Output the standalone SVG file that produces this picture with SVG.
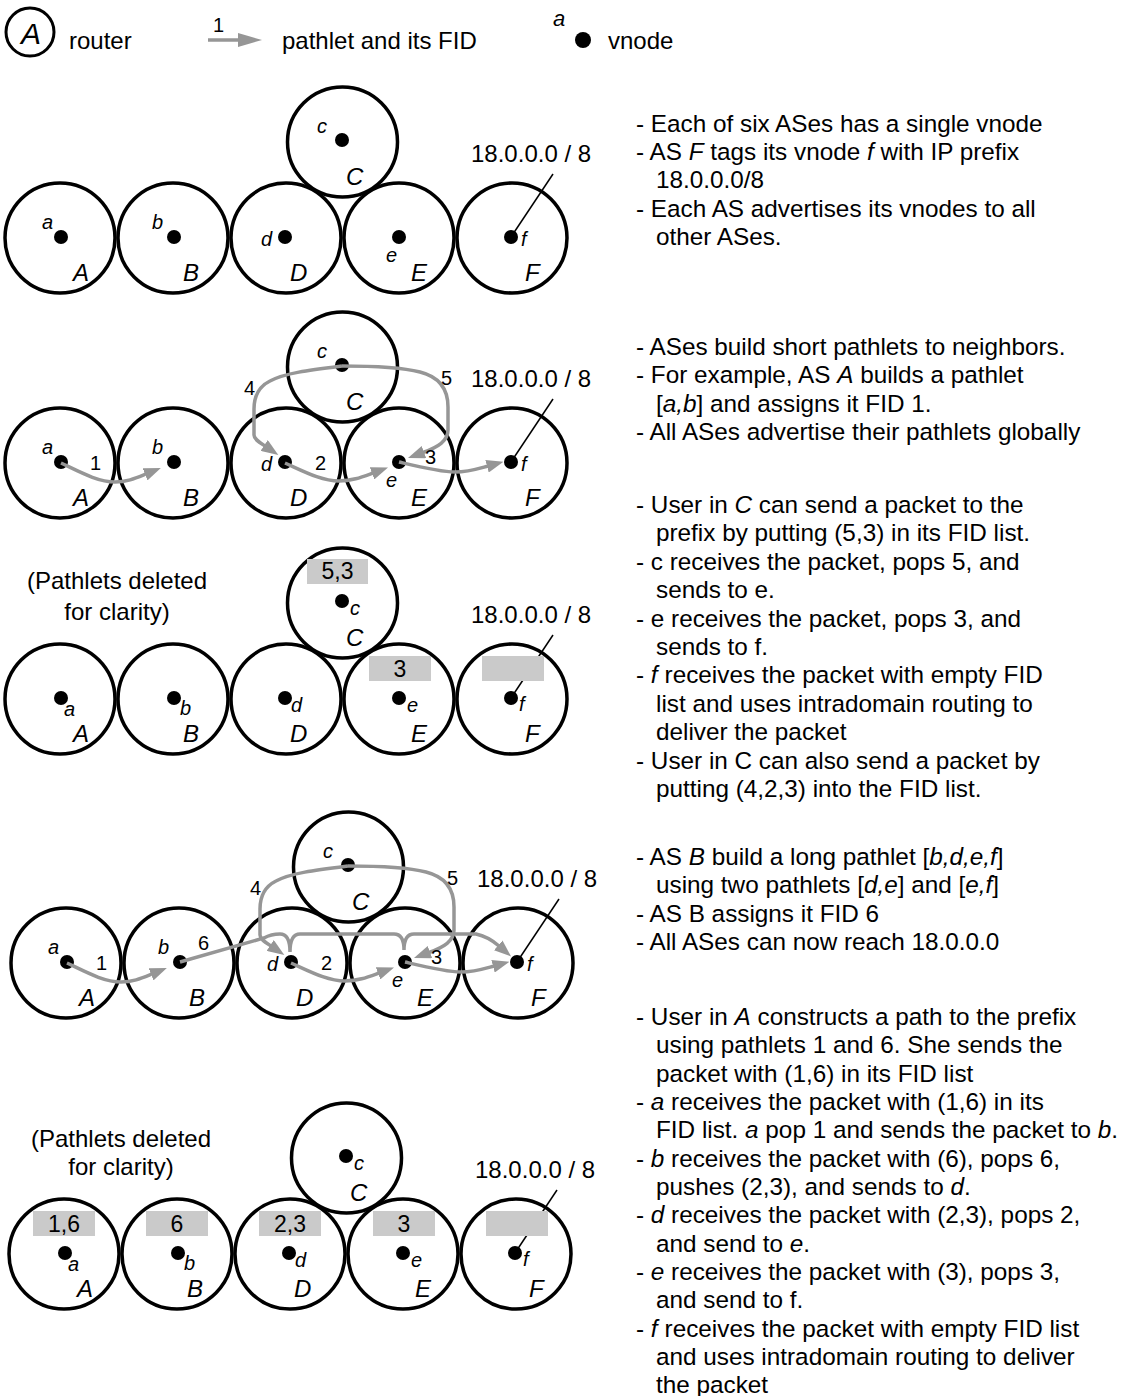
<svg xmlns="http://www.w3.org/2000/svg" width="1122" height="1396" viewBox="0 0 1122 1396">
<style>
.ring{fill:none;stroke:#000;stroke-width:3.5}
.dot{fill:#000}
.lbl{font-family:"Liberation Sans",Arial,sans-serif;font-style:italic;font-size:20px;fill:#000}
.cap{font-family:"Liberation Sans",Arial,sans-serif;font-style:italic;font-size:24px;fill:#000}
.txt{font-family:"Liberation Sans",Arial,sans-serif;font-size:24px;fill:#000}
.note{font-family:"Liberation Sans",Arial,sans-serif;font-size:24.3px;fill:#000}
.num{font-family:"Liberation Sans",Arial,sans-serif;font-size:20px;fill:#000}
.bx{font-family:"Liberation Sans",Arial,sans-serif;font-size:23px;fill:#000;text-anchor:middle}
.mid{text-anchor:middle}
.it{font-style:italic}
.pl{fill:none;stroke:#969696;stroke-width:3.5;marker-end:url(#ah)}
.box{fill:#cacaca}
.ptr{stroke:#000;stroke-width:1.5}
</style>
<defs>
<marker id="ah" viewBox="0 0 17 13" refX="1" refY="6.5" markerWidth="17" markerHeight="13" markerUnits="userSpaceOnUse" orient="auto"><path d="M0,0 L17,6.5 L0,13 z" fill="#969696"/></marker>
</defs>
<rect width="1122" height="1396" fill="#fff"/>

<!-- legend -->
<g id="legend">
<g id="legend-router"><circle class="ring" style="stroke-width:3" cx="30" cy="32" r="24"/><text class="cap mid" style="font-size:30px" x="31" y="44">A</text><text class="txt" x="69" y="49">router</text></g>
<g id="legend-pathlet"><text class="num" x="213" y="32">1</text><line x1="208" y1="40" x2="242" y2="40" stroke="#969696" stroke-width="3.5"/><polygon points="238,33 262,40 238,47" fill="#969696"/><text class="txt" x="282" y="49">pathlet and its FID</text></g>
<g id="legend-vnode"><text class="lbl" style="font-size:22px" x="553" y="26">a</text><circle class="dot" cx="583" cy="40" r="8"/><text class="txt" x="608" y="49">vnode</text></g>
</g>

<!-- panel 1 -->
<g id="panel1">
<g id="p1-prefix"><line class="ptr" x1="553" y1="174" x2="511" y2="237"/><text class="txt" x="471" y="162">18.0.0.0 / 8</text></g>
<g id="p1-A"><circle class="ring" cx="60" cy="238" r="55"/><circle class="dot" cx="61" cy="237" r="7"/><text class="lbl" x="42" y="229">a</text><text class="cap" x="73" y="281">A</text></g>
<g id="p1-B"><circle class="ring" cx="173" cy="238" r="55"/><circle class="dot" cx="174" cy="237" r="7"/><text class="lbl" x="152" y="229">b</text><text class="cap" x="183" y="281">B</text></g>
<g id="p1-C"><circle class="ring" cx="342.5" cy="142" r="55"/><circle class="dot" cx="342" cy="140" r="7"/><text class="lbl" x="317" y="133">c</text><text class="cap" x="346" y="185">C</text></g>
<g id="p1-D"><circle class="ring" cx="286" cy="238" r="55"/><circle class="dot" cx="285" cy="237" r="7"/><text class="lbl" x="261" y="246">d</text><text class="cap" x="290" y="281">D</text></g>
<g id="p1-E"><circle class="ring" cx="399" cy="238" r="55"/><circle class="dot" cx="399" cy="237" r="7"/><text class="lbl" x="386" y="262">e</text><text class="cap" x="411" y="281">E</text></g>
<g id="p1-F"><circle class="ring" cx="512" cy="238" r="55"/><circle class="dot" cx="511" cy="237" r="7"/><text class="lbl" x="521" y="246">f</text><text class="cap" x="525" y="281">F</text></g>
</g>

<!-- panel 2 -->
<g id="panel2" transform="translate(0,225)">
<g id="p2-prefix"><line class="ptr" x1="553" y1="174" x2="511" y2="237"/><text class="txt" x="471" y="162">18.0.0.0 / 8</text></g>
<g id="p2-A"><circle class="ring" cx="60" cy="238" r="55"/><circle class="dot" cx="61" cy="237" r="7"/><text class="lbl" x="42" y="229">a</text><text class="cap" x="73" y="281">A</text></g>
<g id="p2-B"><circle class="ring" cx="173" cy="238" r="55"/><circle class="dot" cx="174" cy="237" r="7"/><text class="lbl" x="152" y="229">b</text><text class="cap" x="183" y="281">B</text></g>
<g id="p2-C"><circle class="ring" cx="342.5" cy="142" r="55"/><circle class="dot" cx="342" cy="140" r="7"/><text class="lbl" x="317" y="133">c</text><text class="cap" x="346" y="185">C</text></g>
<g id="p2-D"><circle class="ring" cx="286" cy="238" r="55"/><circle class="dot" cx="285" cy="237" r="7"/><text class="lbl" x="261" y="246">d</text><text class="cap" x="290" y="281">D</text></g>
<g id="p2-E"><circle class="ring" cx="399" cy="238" r="55"/><circle class="dot" cx="399" cy="237" r="7"/><text class="lbl" x="386" y="262">e</text><text class="cap" x="411" y="281">E</text></g>
<g id="p2-F"><circle class="ring" cx="512" cy="238" r="55"/><circle class="dot" cx="511" cy="237" r="7"/><text class="lbl" x="521" y="246">f</text><text class="cap" x="525" y="281">F</text></g>
<g id="p2-connectors">
<path class="pl" d="M61,238 C80,247 98,257 115,257 C127,257 136,253 146,249"/>
<path class="pl" d="M285,238 C305,247 322,256 339,256 C352,256 362,252 373,248"/>
<path class="pl" d="M399,237 C420,242 440,247 455,247 C468,247 477,244 488,241"/>
<path class="pl" d="M342,141 C310,145 285,148 270,156 C258,162 254,172 254,184 L254,210 C254,214 259,217 265,221"/>
<path class="pl" d="M342,141 C370,141 400,142 420,147 C440,152 448,165 448,182 L448,205 C448,216 438,222 423,227.5"/>
<text class="num" x="90" y="245">1</text><text class="num" x="315" y="245">2</text><text class="num" x="425" y="239">3</text><text class="num" x="244" y="170">4</text><text class="num" x="441" y="160">5</text>
</g>
</g>

<!-- panel 3 -->
<g id="panel3" transform="translate(0,461)">
<text class="txt mid" x="117" y="128">(Pathlets deleted</text>
<text class="txt mid" x="117" y="159">for clarity)</text>
<g id="p3-prefix"><line class="ptr" x1="553" y1="174" x2="511" y2="237"/><text class="txt" x="471" y="162">18.0.0.0 / 8</text></g>
<g id="p3-A"><circle class="ring" cx="60" cy="238" r="55"/><circle class="dot" cx="61" cy="237" r="7"/><text class="lbl" x="64" y="255">a</text><text class="cap" x="73" y="281">A</text></g>
<g id="p3-B"><circle class="ring" cx="173" cy="238" r="55"/><circle class="dot" cx="174" cy="237" r="7"/><text class="lbl" x="180" y="254">b</text><text class="cap" x="183" y="281">B</text></g>
<g id="p3-C"><circle class="ring" cx="342.5" cy="142" r="55"/><rect class="box" x="307" y="98" width="61" height="25"/><text class="bx" x="337.5" y="118">5,3</text><circle class="dot" cx="342" cy="140" r="7"/><text class="lbl" x="350" y="154">c</text><text class="cap" x="346" y="185">C</text></g>
<g id="p3-D"><circle class="ring" cx="286" cy="238" r="55"/><circle class="dot" cx="285" cy="237" r="7"/><text class="lbl" x="291" y="251">d</text><text class="cap" x="290" y="281">D</text></g>
<g id="p3-E"><circle class="ring" cx="399" cy="238" r="55"/><rect class="box" x="369" y="195" width="62" height="25"/><text class="bx" x="400" y="216">3</text><circle class="dot" cx="399" cy="237" r="7"/><text class="lbl" x="407" y="251">e</text><text class="cap" x="411" y="281">E</text></g>
<g id="p3-F"><circle class="ring" cx="512" cy="238" r="55"/><rect class="box" x="482" y="195" width="62" height="25"/><circle class="dot" cx="511" cy="237" r="7"/><text class="lbl" x="519" y="250">f</text><text class="cap" x="525" y="281">F</text></g>
</g>

<!-- panel 4 -->
<g id="panel4" transform="translate(6,725)">
<g id="p4-prefix"><line class="ptr" x1="553" y1="174" x2="511" y2="237"/><text class="txt" x="471" y="162">18.0.0.0 / 8</text></g>
<g id="p4-A"><circle class="ring" cx="60" cy="238" r="55"/><circle class="dot" cx="61" cy="237" r="7"/><text class="lbl" x="42" y="229">a</text><text class="cap" x="73" y="281">A</text></g>
<g id="p4-B"><circle class="ring" cx="173" cy="238" r="55"/><circle class="dot" cx="174" cy="237" r="7"/><text class="lbl" x="152" y="229">b</text><text class="cap" x="183" y="281">B</text></g>
<g id="p4-C"><circle class="ring" cx="342.5" cy="142" r="55"/><circle class="dot" cx="342" cy="140" r="7"/><text class="lbl" x="317" y="133">c</text><text class="cap" x="346" y="185">C</text></g>
<g id="p4-D"><circle class="ring" cx="286" cy="238" r="55"/><circle class="dot" cx="285" cy="237" r="7"/><text class="lbl" x="261" y="246">d</text><text class="cap" x="290" y="281">D</text></g>
<g id="p4-E"><circle class="ring" cx="399" cy="238" r="55"/><circle class="dot" cx="399" cy="237" r="7"/><text class="lbl" x="386" y="262">e</text><text class="cap" x="411" y="281">E</text></g>
<g id="p4-F"><circle class="ring" cx="512" cy="238" r="55"/><circle class="dot" cx="511" cy="237" r="7"/><text class="lbl" x="521" y="246">f</text><text class="cap" x="525" y="281">F</text></g>
<g id="p4-connectors">
<path class="pl" d="M61,238 C80,247 98,257 115,257 C127,257 136,253 146,249"/>
<path class="pl" d="M285,238 C305,247 322,256 339,256 C352,256 362,252 373,248"/>
<path class="pl" d="M399,237 C420,242 440,247 455,247 C468,247 477,244 488,241"/>
<path class="pl" d="M342,141 C310,145 285,148 270,156 C258,162 254,172 254,184 L254,210 C254,214 259,217 265,221"/>
<path class="pl" d="M342,141 C370,141 400,142 420,147 C440,152 448,165 448,182 L448,205 C448,216 438,222 423,227.5"/>
<path class="pl" d="M174,237 L258,213 Q265,209 274,209 Q284,209 284,227 Q284,209 294,209 L388,209 Q398,209 398,225 Q398,209 408,209 L470,209 Q482,211.5 493,221"/>
<text class="num" x="90" y="245">1</text><text class="num" x="315" y="245">2</text><text class="num" x="425" y="239">3</text><text class="num" x="244" y="170">4</text><text class="num" x="441" y="160">5</text><text class="num" x="192" y="225">6</text>
</g>
</g>

<!-- panel 5 -->
<g id="panel5" transform="translate(4,1016)">
<text class="txt mid" x="117" y="131">(Pathlets deleted</text>
<text class="txt mid" x="117" y="159">for clarity)</text>
<g id="p5-prefix"><line class="ptr" x1="553" y1="174" x2="511" y2="237"/><text class="txt" x="471" y="162">18.0.0.0 / 8</text></g>
<g id="p5-A"><circle class="ring" cx="60" cy="238" r="55"/><rect class="box" x="29" y="195" width="62" height="25"/><text class="bx" x="60" y="216">1,6</text><circle class="dot" cx="61" cy="237" r="7"/><text class="lbl" x="64" y="255">a</text><text class="cap" x="73" y="281">A</text></g>
<g id="p5-B"><circle class="ring" cx="173" cy="238" r="55"/><rect class="box" x="142" y="195" width="62" height="25"/><text class="bx" x="173" y="216">6</text><circle class="dot" cx="174" cy="237" r="7"/><text class="lbl" x="180" y="254">b</text><text class="cap" x="183" y="281">B</text></g>
<g id="p5-C"><circle class="ring" cx="342.5" cy="142" r="55"/><circle class="dot" cx="342" cy="140" r="7"/><text class="lbl" x="350" y="154">c</text><text class="cap" x="346" y="185">C</text></g>
<g id="p5-D"><circle class="ring" cx="286" cy="238" r="55"/><rect class="box" x="255" y="195" width="62" height="25"/><text class="bx" x="286" y="216">2,3</text><circle class="dot" cx="285" cy="237" r="7"/><text class="lbl" x="291" y="251">d</text><text class="cap" x="290" y="281">D</text></g>
<g id="p5-E"><circle class="ring" cx="399" cy="238" r="55"/><rect class="box" x="369" y="195" width="62" height="25"/><text class="bx" x="400" y="216">3</text><circle class="dot" cx="399" cy="237" r="7"/><text class="lbl" x="407" y="251">e</text><text class="cap" x="411" y="281">E</text></g>
<g id="p5-F"><circle class="ring" cx="512" cy="238" r="55"/><rect class="box" x="482" y="195" width="62" height="25"/><circle class="dot" cx="511" cy="237" r="7"/><text class="lbl" x="519" y="250">f</text><text class="cap" x="525" y="281">F</text></g>
</g>

<!-- explanatory text -->
<g id="notes" class="note">
<text x="636" y="132">- Each of six ASes has a single vnode</text>
<text x="636" y="160">- AS <tspan class="it">F</tspan> tags its vnode <tspan class="it">f</tspan> with IP prefix</text>
<text x="656" y="188">18.0.0.0/8</text>
<text x="636" y="217">- Each AS advertises its vnodes to all</text>
<text x="656" y="245">other ASes.</text>

<text x="636" y="355">- ASes build short pathlets to neighbors.</text>
<text x="636" y="383">- For example, AS <tspan class="it">A</tspan> builds a pathlet</text>
<text x="656" y="412">[<tspan class="it">a,b</tspan>] and assigns it FID 1.</text>
<text x="636" y="440">- All ASes advertise their pathlets globally</text>

<text x="636" y="513">- User in <tspan class="it">C</tspan> can send a packet to the</text>
<text x="656" y="541">prefix by putting (5,3) in its FID list.</text>
<text x="636" y="570">- c receives the packet, pops 5, and</text>
<text x="656" y="598">sends to e.</text>
<text x="636" y="627">- e receives the packet, pops 3, and</text>
<text x="656" y="655">sends to f.</text>
<text x="636" y="683">- <tspan class="it">f</tspan><tspan dx="7">receives the packet with empty FID</tspan></text>
<text x="656" y="712">list and uses intradomain routing to</text>
<text x="656" y="740">deliver the packet</text>
<text x="636" y="769">- User in C can also send a packet by</text>
<text x="656" y="797">putting (4,2,3) into the FID list.</text>

<text x="636" y="865">- AS <tspan class="it">B</tspan> build a long pathlet [<tspan class="it">b,d,e,f</tspan>]</text>
<text x="656" y="893">using two pathlets [<tspan class="it">d,e</tspan>] and [<tspan class="it">e,f</tspan>]</text>
<text x="636" y="922">- AS B assigns it FID 6</text>
<text x="636" y="950">- All ASes can now reach 18.0.0.0</text>

<text x="636" y="1025">- User in <tspan class="it">A</tspan> constructs a path to the prefix</text>
<text x="656" y="1053">using pathlets 1 and 6. She sends the</text>
<text x="656" y="1082">packet with (1,6) in its FID list</text>
<text x="636" y="1110">- <tspan class="it">a</tspan> receives the packet with (1,6) in its</text>
<text x="656" y="1138">FID list. <tspan class="it">a</tspan> pop 1 and sends the packet to <tspan class="it">b</tspan>.</text>
<text x="636" y="1167">- <tspan class="it">b</tspan> receives the packet with (6), pops 6,</text>
<text x="656" y="1195">pushes (2,3), and sends to <tspan class="it">d</tspan>.</text>
<text x="636" y="1223">- <tspan class="it">d</tspan> receives the packet with (2,3), pops 2,</text>
<text x="656" y="1252">and send to <tspan class="it">e</tspan>.</text>
<text x="636" y="1280">- <tspan class="it">e</tspan> receives the packet with (3), pops 3,</text>
<text x="656" y="1308">and send to f.</text>
<text x="636" y="1337">- <tspan class="it">f</tspan><tspan dx="7">receives the packet with empty FID list</tspan></text>
<text x="656" y="1365">and uses intradomain routing to deliver</text>
<text x="656" y="1393">the packet</text>
</g>
</svg>
